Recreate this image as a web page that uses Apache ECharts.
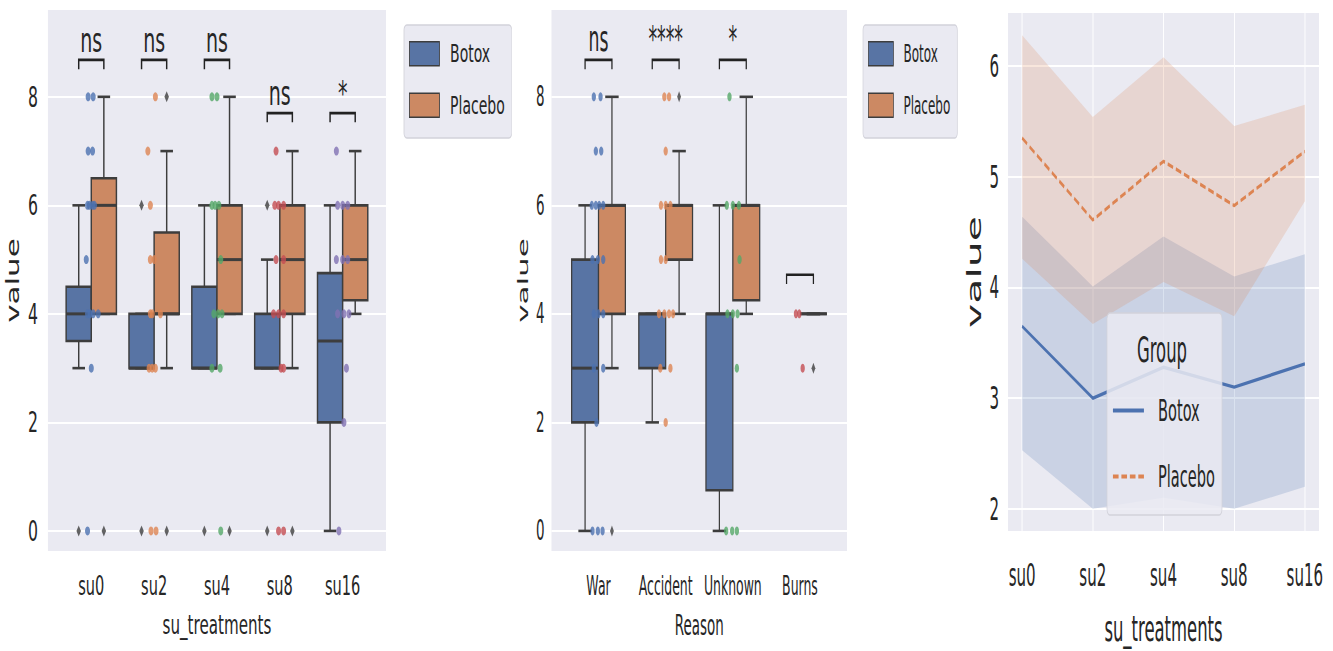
<!DOCTYPE html>
<html><head><meta charset="utf-8">
<script src="https://cdn.jsdelivr.net/npm/echarts@6/dist/echarts.min.js"></script>
<style>
html,body{margin:0;padding:0;background:#fff;overflow:hidden;width:1333px;height:651px;}
.panel{position:absolute;top:0;height:651px;transform-origin:0 0;}
</style></head><body>
<div id="pL" class="panel"></div><div id="pM" class="panel"></div><div id="pR" class="panel"></div>
<script>
// ---------------- DATA ----------------
const suCategories = ['su0','su2','su4','su8','su16'];
const reasonCategories = ['War','Accident','Unknown','Burns'];
const groupNames = ['Botox','Placebo'];
const yTicksBox = [0,2,4,6,8];
const yTicksLine = [2,3,4,5,6];

// box stats: [category index, lower whisker, Q1, median, Q3, upper whisker]
const suBotoxBoxes = [[0,3,3.5,4,4.5,6],[1,3,3,3,4,4],[2,3,3,3,4.5,6],[3,3,3,3,4,5],[4,0,2,3.5,4.75,6]];
const suPlaceboBoxes = [[0,4,4,6,6.5,8],[1,3,4,4,5.5,7],[2,4,4,5,6,8],[3,3,4,5,6,7],[4,4,4.25,5,6,7]];
// fliers: [category index, value]
const suBotoxFliers = [[0,0],[1,6],[1,0],[2,0],[3,6],[3,0]];
const suPlaceboFliers = [[0,0],[1,8],[1,0],[2,0],[3,0]];
// strip points: [category index, value, jitter]
const suPoints = [
 [0,8,-0.05],[0,8,0.03],[0,7,-0.05],[0,7,0.02],[0,6,-0.06],[0,6,-0.03],[0,6,0.02],[0,6,0.05],[0,5,-0.08],[0,4,-0.06],[0,4,-0.02],[0,4,0.03],[0,4,0.11],[0,3,0],[0,0,-0.06],
 [1,8,0.02],[1,7,-0.10],[1,6,-0.06],[1,5,-0.06],[1,5,0],[1,4,-0.06],[1,4,-0.03],[1,4,0.10],[1,3,-0.08],[1,3,-0.03],[1,3,0.02],[1,0,-0.05],[1,0,0.03],
 [2,8,-0.08],[2,8,0],[2,6,-0.08],[2,6,-0.03],[2,6,0.03],[2,5,0.06],[2,4,-0.05],[2,4,0.02],[2,4,0.08],[2,3,-0.08],[2,3,0.05],[2,0,0.06],
 [3,7,-0.06],[3,6,-0.08],[3,6,-0.02],[3,6,0.06],[3,5,-0.06],[3,5,0.06],[3,4,-0.10],[3,4,-0.02],[3,4,0.06],[3,3,0.02],[3,3,0.06],[3,0,-0.02],[3,0,0.06],
 [4,7,-0.10],[4,6,-0.08],[4,6,0],[4,6,0.08],[4,5,-0.10],[4,5,0],[4,5,0.08],[4,4,-0.08],[4,4,0.02],[4,4,0.10],[4,3,0.06],[4,2,0.02],[4,0,-0.06]
];
const suAnnotCats = [0,1,2,3,4];
const suAnnotLevels = [8.68,8.68,8.68,7.7,7.7];
const suAnnotLabels = ['ns','ns','ns','ns','*'];

const reasonBotoxBoxes = [[0,0,2,3,5,6],[1,2,3,4,4,4],[2,0,0.75,4,4,6]];
const reasonPlaceboBoxes = [[0,3,4,6,6,8],[1,4,5,6,6,7],[2,4,4.25,6,6,8],[3,4,4,4,4,4]];
const reasonBotoxFliers = [];
const reasonPlaceboFliers = [[0,0],[1,8],[3,3]];
const reasonPoints = [
 [0,8,-0.07],[0,8,0.03],[0,7,-0.04],[0,7,0.04],[0,6,-0.10],[0,6,-0.04],[0,6,0.01],[0,6,0.07],[0,5,-0.09],[0,5,-0.01],[0,5,0.07],[0,4,-0.07],[0,4,0],[0,4,0.07],[0,3,-0.07],[0,3,0.07],[0,2,-0.03],[0,0,-0.09],[0,0,-0.01],[0,0,0.06],
 [1,8,-0.02],[1,8,0.05],[1,7,0],[1,6,-0.07],[1,6,0],[1,6,0.07],[1,5,-0.07],[1,5,0],[1,4,-0.10],[1,4,-0.02],[1,4,0.05],[1,4,0.11],[1,3,-0.08],[1,3,0.07],[1,2,0],
 [2,8,-0.05],[2,6,-0.09],[2,6,0],[2,6,0.09],[2,5,0.10],[2,4,-0.08],[2,4,0],[2,4,0.07],[2,3,0.06],[2,0,-0.10],[2,0,-0.01],[2,0,0.06],
 [3,4,-0.06],[3,4,-0.01],[3,3,0.04]
];
const reasonAnnotCats = [0,1,2,3];
const reasonAnnotLevels = [8.68,8.68,8.68,4.72];
const reasonAnnotLabels = ['ns','****','*',''];

const lineBotoxMean = [3.65,3.0,3.28,3.1,3.31];
const lineBotoxLow = [2.53,2.0,2.1,2.0,2.2];
const lineBotoxHigh = [4.64,4.01,4.46,4.1,4.3];
const linePlaceboMean = [5.35,4.61,5.14,4.74,5.23];
const linePlaceboLow = [4.26,3.67,4.05,3.74,4.78];
const linePlaceboHigh = [6.28,5.54,6.08,5.46,5.65];

// ---------------- STYLE ----------------
const FONT = 'DejaVu Sans';
const TXT = '#262626';
const LINE = '#3d3d3d';
const BG = '#EAEAF2';
const boxColors = ['#5874A4','#CC8963'];
const lineColors = ['#4C72B0','#DD8452'];
const pointColors = ['#4C72B0','#DD8452','#55A868','#C44E52','#8172B3'];

function boxRender(hue, color) {
  return function (params, api) {
    const c = api.value(0), lo = api.value(1), q1 = api.value(2), med = api.value(3), q3 = api.value(4), hi = api.value(5);
    const cx = c + (hue === 0 ? -0.2 : 0.2);
    const tl = api.coord([cx - 0.2, q3]), br = api.coord([cx + 0.2, q1]);
    const ctr = api.coord([cx, med]);
    const yHi = api.coord([cx, hi])[1], yLo = api.coord([cx, lo])[1];
    const cl = api.coord([cx - 0.1, med])[0], cr = api.coord([cx + 0.1, med])[0];
    const st = {stroke: LINE, lineWidth: 2.6, fill: null};
    return {type: 'group', children: [
      {type: 'line', shape: {x1: ctr[0], y1: br[1], x2: ctr[0], y2: yLo}, style: st},
      {type: 'line', shape: {x1: ctr[0], y1: tl[1], x2: ctr[0], y2: yHi}, style: st},
      {type: 'line', shape: {x1: cl, y1: yLo, x2: cr, y2: yLo}, style: st},
      {type: 'line', shape: {x1: cl, y1: yHi, x2: cr, y2: yHi}, style: st},
      {type: 'rect', shape: {x: tl[0], y: tl[1], width: br[0] - tl[0], height: br[1] - tl[1]}, style: {fill: color, stroke: LINE, lineWidth: 2.6}},
      {type: 'line', shape: {x1: tl[0], y1: ctr[1], x2: br[0], y2: ctr[1]}, style: {stroke: LINE, lineWidth: 3}}
    ]};
  };
}
function annotRender(labels, fontSize) {
  return function (params, api) {
    const c = api.value(0), lv = api.value(1);
    const p1 = api.coord([c - 0.2, lv - 0.17]), p2 = api.coord([c - 0.2, lv]), p3 = api.coord([c + 0.2, lv]), p4 = api.coord([c + 0.2, lv - 0.17]);
    const ch = [{type: 'polyline', shape: {points: [p1, p2, p3, p4]}, style: {stroke: '#222', lineWidth: 2.6, fill: null}}];
    const t = labels[params.dataIndex];
    if (t) ch.push({type: 'text', x: (p2[0] + p3[0]) / 2, y: p2[1] - 3,
      style: {text: t, fill: TXT, fontSize: fontSize, fontFamily: FONT, align: 'center', verticalAlign: 'bottom'}});
    return {type: 'group', children: ch};
  };
}

function boxPanel(cfg) {
  const cats = cfg.categories;
  const xTicks = cats.map((c, i) => i);
  return {
    animation: false,
    grid: {left: cfg.gridLeft, top: 10, width: cfg.gridWidth, height: 541, show: true, backgroundColor: BG, borderWidth: 0},
    legend: {
      left: cfg.legendLeft, top: 25, orient: 'vertical',
      data: groupNames.map(n => ({name: n, icon: 'rect'})),
      itemWidth: cfg.itemWidth, itemHeight: 24, itemGap: 26,
      padding: [16, cfg.padRight, 20, cfg.padLeft],
      backgroundColor: BG, borderColor: '#d2d2da', borderWidth: 1.5, borderRadius: 5,
      itemStyle: {borderColor: LINE, borderWidth: 1.5},
      textStyle: {fontFamily: FONT, fontSize: cfg.legendFont, color: TXT, padding: [0, 0, 0, cfg.textGap]},
      selectedMode: false
    },
    xAxis: {
      type: 'value', min: cfg.xMin, max: cfg.xMax,
      axisLine: {show: false}, splitLine: {show: false},
      axisTick: {show: false, customValues: xTicks},
      axisLabel: {customValues: xTicks, formatter: v => cats[Math.round(v)], fontFamily: FONT, fontSize: cfg.xFont, color: TXT, margin: 22},
      name: cfg.xName, nameLocation: 'middle', nameGap: 60,
      nameTextStyle: {fontFamily: FONT, fontSize: cfg.xNameFont, color: TXT}
    },
    yAxis: {
      type: 'value', min: -0.37, max: 9.6,
      axisLine: {show: false},
      axisTick: {show: false, customValues: yTicksBox},
      axisLabel: {customValues: yTicksBox, fontFamily: FONT, fontSize: 28, color: TXT, margin: cfg.yMargin},
      splitLine: {show: true, lineStyle: {color: '#ffffff', width: 2}},
      name: 'value', nameLocation: 'middle', nameGap: cfg.yNameGap,
      nameTextStyle: {fontFamily: FONT, fontSize: 31, color: TXT}
    },
    series: [
      {name: 'Botox', type: 'custom', z: 2, renderItem: boxRender(0, boxColors[0]), itemStyle: {color: boxColors[0]},
        encode: {x: 0, y: [1, 2, 3, 4, 5]}, data: cfg.botoxBoxes, silent: true},
      {name: 'Placebo', type: 'custom', z: 2, renderItem: boxRender(1, boxColors[1]), itemStyle: {color: boxColors[1]},
        encode: {x: 0, y: [1, 2, 3, 4, 5]}, data: cfg.placeboBoxes, silent: true},
      {name: 'fliers', type: 'scatter', z: 3, symbol: 'diamond', symbolSize: [8, 11], itemStyle: {color: LINE}, silent: true,
        data: cfg.botoxFliers.map(f => [f[0] - 0.2, f[1]]).concat(cfg.placeboFliers.map(f => [f[0] + 0.2, f[1]]))},
      {name: 'points', type: 'scatter', z: 4, symbol: 'circle', symbolSize: 9, silent: true,
        data: cfg.points.map(p => ({value: [p[0] + p[2], p[1]], itemStyle: {color: pointColors[p[0]]}}))},
      {name: 'annot', type: 'custom', z: 5, renderItem: annotRender(cfg.annotLabels, cfg.annotFont), silent: true,
        data: cfg.annotCats.map((c, i) => [c, cfg.annotLevels[i]])}
    ]
  };
}

function mount(id, left, scale, imgWidth) {
  const el = document.getElementById(id);
  const w = imgWidth / scale;
  el.style.left = left + 'px';
  el.style.width = w + 'px';
  el.style.transform = 'scaleX(' + scale + ')';
  return echarts.init(el, null, {renderer: 'svg', width: w, height: 651});
}

// ---------- Left panel ----------
const SL = 0.56;
const chartL = mount('pL', 0, SL, 512);
chartL.setOption(boxPanel({
  categories: suCategories, xMin: -0.69, xMax: 4.69,
  gridLeft: 47 / SL, gridWidth: 339 / SL,
  legendLeft: 404 / SL, itemWidth: 30 / SL, padLeft: 5 / SL, padRight: 7 / SL, textGap: 14, legendFont: 25,
  xFont: 26, xNameFont: 27, xName: 'su_treatments', yMargin: 10 / SL, yNameGap: 40, annotFont: 34,
  botoxBoxes: suBotoxBoxes, placeboBoxes: suPlaceboBoxes,
  botoxFliers: suBotoxFliers, placeboFliers: suPlaceboFliers, points: suPoints,
  annotCats: suAnnotCats, annotLevels: suAnnotLevels, annotLabels: suAnnotLabels
}));

// ---------- Middle panel ----------
const SM = 0.48;
const OM = 512;
const chartM = mount('pM', OM, SM, 960 - OM);
chartM.setOption(boxPanel({
  categories: reasonCategories, xMin: -0.7, xMax: 3.7,
  gridLeft: (551 - OM) / SM, gridWidth: 296 / SM,
  legendLeft: (863 - OM) / SM, itemWidth: 25 / SM, padLeft: 5 / SM, padRight: 7 / SM, textGap: 16, legendFont: 25,
  xFont: 26, xNameFont: 28, xName: 'Reason', yMargin: 7 / SM, yNameGap: 42, annotFont: 36,
  botoxBoxes: reasonBotoxBoxes, placeboBoxes: reasonPlaceboBoxes,
  botoxFliers: reasonBotoxFliers, placeboFliers: reasonPlaceboFliers, points: reasonPoints,
  annotCats: reasonAnnotCats, annotLevels: reasonAnnotLevels, annotLabels: reasonAnnotLabels
}));

// ---------- Right panel ----------
const SR = 0.47;
const OR = 960;
const chartR = mount('pR', OR, SR, 1333 - OR);
function bandRender(low, high, color) {
  return function (params, api) {
    const pts = [];
    for (let i = 0; i < high.length; i++) pts.push(api.coord([i, high[i]]));
    for (let i = low.length - 1; i >= 0; i--) pts.push(api.coord([i, low[i]]));
    return {type: 'polygon', shape: {points: pts}, style: {fill: color}};
  };
}
const xTicksLine = suCategories.map((c, i) => i);
chartR.setOption({
  animation: false,
  grid: {left: 48 / SR, top: 13, width: 311 / SR, height: 520, show: true, backgroundColor: BG, borderWidth: 0},
  legend: {
    left: (1107 - OR) / SR, top: 313, orient: 'vertical',
    data: groupNames,
    itemWidth: 31 / SR, itemHeight: 30, itemGap: 35,
    padding: [82, 15, 23, 5 / SR],
    backgroundColor: 'rgba(234,234,242,0.85)', borderColor: '#d2d2da', borderWidth: 1.5, borderRadius: 6,
    itemStyle: {opacity: 0},
    lineStyle: {width: 4},
    textStyle: {fontFamily: FONT, fontSize: 31, color: TXT, lineHeight: 30, padding: [0, 0, 0, 25]},
    selectedMode: false
  },
  graphic: [{type: 'text', x: (1162 - OR) / SR, y: 350, z: 100,
    style: {text: 'Group', fontFamily: FONT, fontSize: 35, fill: TXT, align: 'center', verticalAlign: 'middle'}}],
  xAxis: {
    type: 'value', min: -0.2, max: 4.2,
    axisLine: {show: false},
    axisTick: {show: false, customValues: xTicksLine},
    axisLabel: {customValues: xTicksLine, formatter: v => suCategories[Math.round(v)], fontFamily: FONT, fontSize: 32, color: TXT, margin: 28},
    splitLine: {show: true, lineStyle: {color: '#ffffff', width: 2}},
    name: 'su_treatments', nameLocation: 'middle', nameGap: 80,
    nameTextStyle: {fontFamily: FONT, fontSize: 35, color: TXT}
  },
  yAxis: {
    type: 'value', min: 1.8, max: 6.48,
    axisLine: {show: false},
    axisTick: {show: false, customValues: yTicksLine},
    axisLabel: {customValues: yTicksLine, fontFamily: FONT, fontSize: 32, color: TXT, margin: 9 / SR},
    splitLine: {show: true, lineStyle: {color: '#ffffff', width: 2}},
    name: 'value', nameLocation: 'middle', nameGap: 52,
    nameTextStyle: {fontFamily: FONT, fontSize: 41, color: TXT}
  },
  series: [
    {name: 'Botox band', type: 'custom', z: 1, silent: true, data: [[0]], renderItem: bandRender(lineBotoxLow, lineBotoxHigh, 'rgba(76,114,176,0.2)')},
    {name: 'Placebo band', type: 'custom', z: 1, silent: true, data: [[0]], renderItem: bandRender(linePlaceboLow, linePlaceboHigh, 'rgba(221,132,82,0.2)')},
    {name: 'Botox', type: 'line', z: 3, symbol: 'none', silent: true,
      lineStyle: {color: lineColors[0], width: 3.5}, itemStyle: {color: lineColors[0]},
      data: lineBotoxMean.map((v, i) => [i, v])},
    {name: 'Placebo', type: 'line', z: 3, symbol: 'none', silent: true,
      lineStyle: {color: lineColors[1], width: 3.5, type: [12, 6]}, itemStyle: {color: lineColors[1]},
      data: linePlaceboMean.map((v, i) => [i, v])}
  ]
});
</script></body></html>
